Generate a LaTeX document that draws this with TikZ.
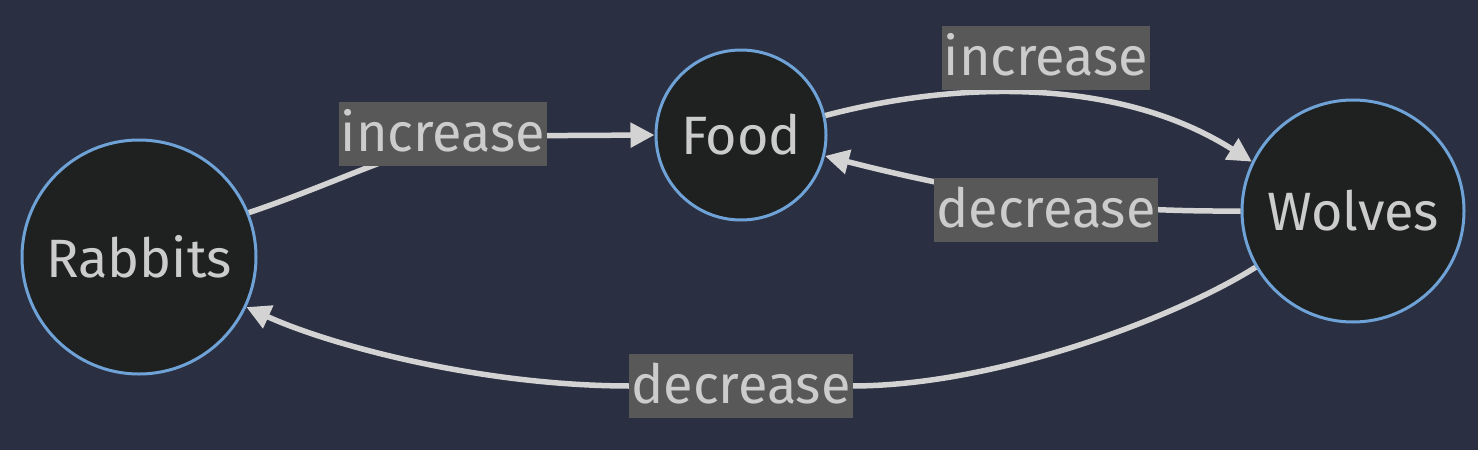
\documentclass[tikz,border=0pt]{standalone}
\usepackage{fontspec}
\setmainfont{Fira Sans}
\usetikzlibrary{arrows.meta}
\definecolor{bg}{HTML}{2A3041}
\definecolor{nodefill}{HTML}{1F2020}
\definecolor{nodeborder}{HTML}{6FA3D8}
\definecolor{txt}{HTML}{CCCCCC}
\definecolor{edgecol}{HTML}{D3D3D3}
\definecolor{labbg}{HTML}{585858}
\tikzset{
  state/.style={circle, draw=nodeborder, line width=3pt, fill=nodefill, text=txt, font=\fontsize{54}{60}\selectfont, inner sep=0pt},
  elabel/.style={fill=labbg, text=txt, font=\fontsize{54}{60}\selectfont, inner xsep=2pt, inner ysep=3pt, text height=46pt, text depth=12pt},
  edge/.style={draw=edgecol, line width=5.5pt, -{Triangle[length=24pt,width=24pt]}}
}
\begin{document}
\begin{tikzpicture}[x=1pt,y=-1pt]
\fill[bg] (0,0) rectangle (1478,450);
\useasboundingbox (0,0) rectangle (1478,450);
\node[state, minimum size=234pt] (R) at (139,257) {Rabbits};
\node[state, minimum size=170pt] (F) at (741,135) {Food};
\node[state, minimum size=222pt] (W) at (1353,211) {Wolves};
% edges
\draw[edge] (R.22) .. controls (340,182) and (420,140) .. (480,136) -- (F.west);
\draw[edge] (F.13) .. controls (960,80) and (1120,78) .. (W.154);
\draw[edge] (W.west) .. controls (1100,212) and (990,198) .. (F.-14);
\draw[edge] (W.210) .. controls (1180,315) and (1000,386) .. (851,386) -- (631,386) .. controls (480,386) and (330,345) .. (R.-25);
% labels
\node[elabel] (L1) at (443,134) {increase};
\node[elabel] (L2) at (1046,58) {increase};
\node[elabel] (L3) at (1046,210) {decrease};
\node[elabel] (L4) at (741,386) {decrease};
\end{tikzpicture}
\end{document}
